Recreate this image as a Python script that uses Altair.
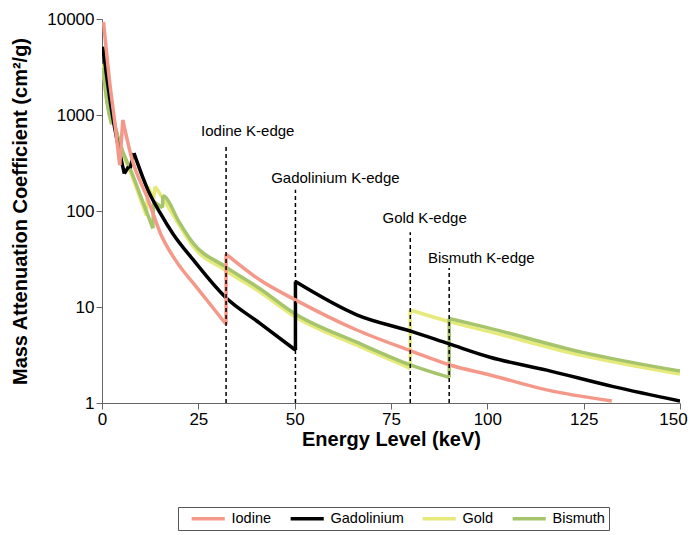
import altair as alt
import pandas as pd

# ---- data ----
elements = ["Iodine", "Gadolinium", "Gold", "Bismuth"]
colors = ["#F4998A", "#000000", "#E5EA7B", "#A5C46C"]

iodine_e = [0.4, 2.0, 3.3, 4.6, 5.4, 7.6, 12.0, 15.2, 19.5, 23.7, 32.2, 32.2, 41.0, 50.3, 66.1, 80.1, 90.3, 100.7, 115.4, 132.3]
iodine_v = [9300, 2200, 850, 300, 890, 370, 130, 58, 29, 17.7, 6.6, 35.6, 19.1, 11.8, 5.76, 3.5, 2.49, 1.96, 1.37, 1.05]

gad_e = [0.2, 2.4, 5.8, 6.9, 7.3, 8.3, 11.9, 15.05, 18.4, 23.7, 31.9, 41.0, 50.2, 50.2, 66.1, 80.1, 90.3, 100.7, 115.4, 132.7, 150.0]
gad_v = [5150, 1175, 245, 290, 280, 400, 166, 96, 58, 30.9, 12.8, 6.76, 3.56, 18.4, 8.3, 5.6, 4.1, 3.0, 2.2, 1.48, 1.05]

gold_e = [0.2, 1.1, 2.2, 2.3, 4.2, 8.0, 11.5, 11.9, 13.4, 13.8, 15.0, 20.0, 23.7, 31.9, 41.0, 50.3, 66.1, 80.0, 80.0, 90.3, 100.0, 125.0, 150.0]
gold_v = [3400, 1550, 950, 1150, 560, 220, 90, 180, 135, 180, 152, 72, 42.5, 24.3, 14.3, 7.8, 4.0, 2.3, 9.3, 7.0, 5.6, 3.1, 2.0]

bis_e = [0.3, 1.3, 2.5, 2.6, 4.2, 8.0, 13.2, 13.4, 15.7, 15.8, 16.4, 20.0, 23.7, 31.9, 41.0, 50.3, 66.1, 80.0, 90.1, 90.1, 100.0, 125.0, 150.0]
bis_v = [3100, 1350, 800, 1050, 580, 235, 66, 125, 108, 145, 140, 77, 46, 26.5, 15.5, 8.4, 4.3, 2.5, 1.85, 7.6, 6.1, 3.35, 2.15]

edge_e = [32.2, 50.2, 80.0, 90.1]
edge_top = [490, 166, 60, 25.5]
label_text = ["Iodine K-edge", "Gadolinium K-edge", "Gold K-edge", "Bismuth K-edge"]
label_e = [25.7, 43.9, 72.8, 84.6]
label_v = [680, 221, 85, 32.4]

x_ticks = [0, 25, 50, 75, 100, 125, 150]
y_ticks = [1, 10, 100, 1000, 10000]

FONT = "Liberation Sans"

# ---- split each series into monotone pieces so sharp edges stay sharp ----
series = [("Iodine", iodine_e, iodine_v), ("Gadolinium", gad_e, gad_v),
          ("Gold", gold_e, gold_v), ("Bismuth", bis_e, bis_v)]
rows = []
for name, es, vs in series:
    pieces = [[(es[0], vs[0])]]
    direction = None
    for i in range(1, len(es)):
        d = 1 if vs[i] > vs[i - 1] else -1
        if len(pieces[-1]) >= 2 and d != direction:
            pieces.append([(es[i - 1], vs[i - 1])])
        pieces[-1].append((es[i], vs[i]))
        direction = d
    for k, pc in enumerate(pieces):
        for j, (e, v) in enumerate(pc):
            rows.append({"element": name, "seg": f"{name}-{k}", "e": e, "v": v, "ord": j})
df = pd.DataFrame(rows)

edges = pd.DataFrame({"e": edge_e, "top": edge_top, "bottom": [1] * len(edge_e)})
labels = pd.DataFrame({"e": label_e, "v": label_v, "text": label_text})

xscale = alt.Scale(domain=[0, 150], nice=False, zero=False)
yscale = alt.Scale(type="log", domain=[1, 10000], nice=False)

xaxis = alt.Axis(values=x_ticks, title="Energy Level (keV)", grid=False, labelFlush=False,
                 labelOffset=alt.condition("datum.value == 150", alt.value(-7), alt.value(0)),
                 titleY=36, titleBaseline="middle")
yaxis = alt.Axis(values=y_ticks, format="d", title="Mass Attenuation Coefficient (cm²/g)",
                 grid=False, titleX=-82, titleY=192, titleBaseline="middle")

base = alt.Chart(df).mark_line(interpolate="monotone", strokeWidth=3.5, clip=True).encode(
    x=alt.X("e:Q", scale=xscale, axis=xaxis),
    y=alt.Y("v:Q", scale=yscale, axis=yaxis),
    color=alt.Color("element:N", scale=alt.Scale(domain=elements, range=colors),
                    legend=alt.Legend(title=None, orient="none", legendX=76, legendY=488,
                                      direction="horizontal", columns=4,
                                      symbolType="M0.48,0H7.1", symbolSize=100,
                                      symbolStrokeWidth=3.5, labelFontSize=14.5,
                                      labelFont=FONT, labelOffset=35, columnPadding=9,
                                      padding=4, strokeColor="#555555", fillColor="white")),
    detail="seg:N",
    order="ord:Q",
)

layers = [base.transform_filter(alt.datum.element == n) for n in ["Gold", "Bismuth", "Gadolinium", "Iodine"]]

rules = alt.Chart(edges).mark_rule(strokeDash=[4, 3], strokeWidth=1.5, color="black").encode(
    x=alt.X("e:Q", scale=xscale),
    y=alt.Y("bottom:Q", scale=yscale),
    y2="top:Q",
)

texts = alt.Chart(labels).mark_text(align="left", baseline="middle", fontSize=15, font=FONT,
                                    color="black").encode(
    x=alt.X("e:Q", scale=xscale),
    y=alt.Y("v:Q", scale=yscale),
    text="text:N",
)

chart = alt.layer(*layers, rules, texts).properties(
    width=578, height=384,
    autosize=alt.AutoSizeParams(type="none"),
    padding={"left": 94, "top": 11, "right": 8, "bottom": 130},
).configure_view(stroke=None).configure_axis(
    labelFont=FONT, labelFontSize=17, labelColor="black", labelPadding=2,
    titleFont=FONT, titleFontSize=20, titleFontWeight="bold", titleColor="black",
    tickSize=6, tickColor="#666666", domainColor="#666666",
)

chart.save("out.html", embed_options={"renderer": "svg", "actions": False})
